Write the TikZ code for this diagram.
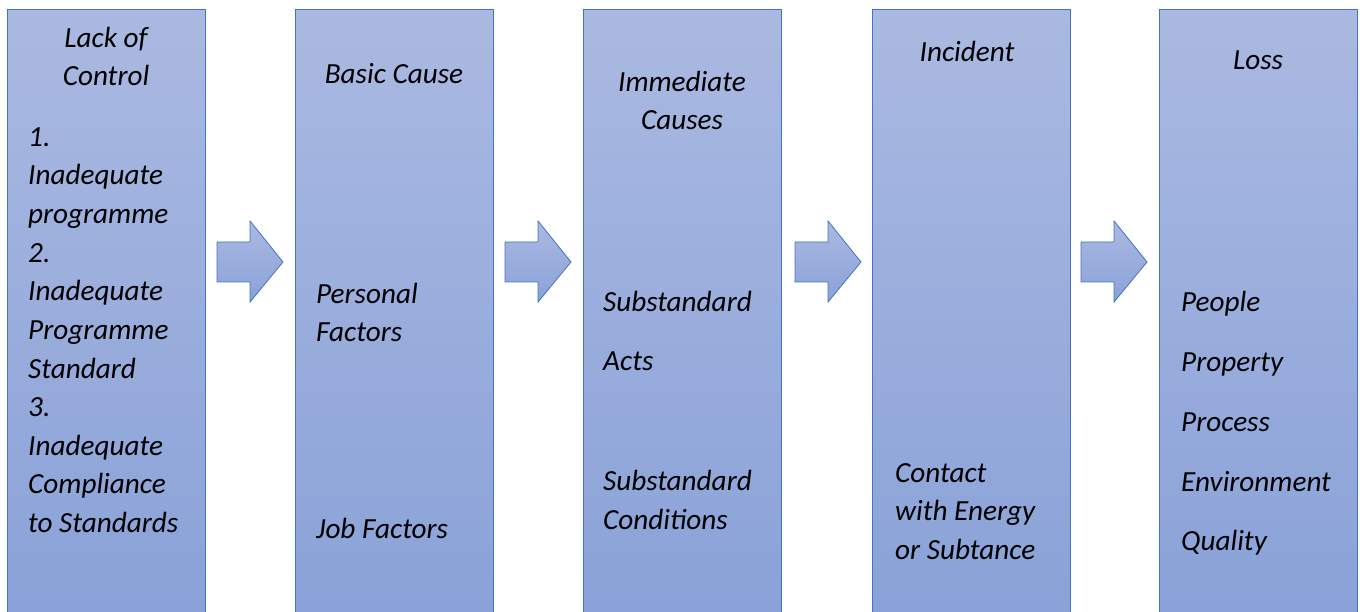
\documentclass[tikz,border=0pt]{standalone}
\usepackage{fontspec}
\setmainfont{Carlito}
\begin{document}
\begin{tikzpicture}[x=1pt,y=-1pt,
  stage/.style={draw=edgeblue, line width=0.9pt, top color=stagetop, bottom color=stagebot,
    rectangle, inner sep=0pt, minimum width=198pt, minimum height=604pt},
  flow/.style={draw=edgeblue, line width=0.8pt, top color=stagetop, bottom color=stagebot, line join=miter},
  lbl/.style={inner sep=0pt, font=\fontsize{29.2}{38}\selectfont\itshape},
  lw/.style={lbl, anchor=base west},
  lc/.style={lbl, anchor=base}]
\definecolor{edgeblue}{HTML}{4472C4}
\definecolor{stagetop}{HTML}{AAB9E1}
\definecolor{stagebot}{HTML}{8AA2D8}
\useasboundingbox (0,0) rectangle (1362,612);
\fill[white] (0,0) rectangle (1362,612);

% the five stages
\node[stage] (s1) at (106,311.5) {};
\node[stage] (s2) at (394,311.5) {};
\node[stage] (s3) at (682.5,311.5) {};
\node[stage] (s4) at (971.5,311.5) {};
\node[stage] (s5) at (1258,311.5) {};

% block arrows between the stages
\newcommand\flowarrow[1]{%
  \draw[flow] (#1,242) -- ++(33,0) -- ++(0,-21) -- ++(33,41) -- ++(-33,40) -- ++(0,-20) -- ++(-33,0) -- cycle;}
\flowarrow{217}
\flowarrow{505}
\flowarrow{795}
\flowarrow{1081}

% stage 1
\node[lc] (h1a) at (106,48) {Lack of};
\node[lc] (h1b) at (106,86) {Control};
\node[lw] (t1a) at (28,147) {1.};
\node[lw] (t1b) at (28,185) {Inadequate};
\node[lw] (t1c) at (28,224) {programme};
\node[lw] (t1d) at (28,262) {2.};
\node[lw] (t1e) at (28,301) {Inadequate};
\node[lw] (t1f) at (28,339) {Programme};
\node[lw] (t1g) at (28,378) {Standard};
\node[lw] (t1h) at (28,416) {3.};
\node[lw] (t1i) at (28,455) {Inadequate};
\node[lw] (t1j) at (28,493) {Compliance};
\node[lw] (t1k) at (28,532) {to Standards};

% stage 2
\node[lc] (h2) at (394,84) {Basic Cause};
\node[lw] (t2a) at (316,303) {Personal};
\node[lw] (t2b) at (316,341) {Factors};
\node[lw] (t2c) at (316,538) {Job Factors};

% stage 3
\node[lc] (h3a) at (682,92) {Immediate};
\node[lc] (h3b) at (682,130) {Causes};
\node[lw] (t3a) at (603,311) {Substandard};
\node[lw] (t3b) at (603,370) {Acts};
\node[lw] (t3c) at (603,490) {Substandard};
\node[lw] (t3d) at (603,529) {Conditions};

% stage 4
\node[lc] (h4) at (967,62) {Incident};
\node[lw] (t4a) at (895,482) {Contact};
\node[lw] (t4b) at (895,520) {with Energy};
\node[lw] (t4c) at (895,559) {or Subtance};

% stage 5
\node[lc] (h5) at (1258,70) {Loss};
\node[lw] (t5a) at (1181,311) {People};
\node[lw] (t5b) at (1181,371) {Property};
\node[lw] (t5c) at (1181,431) {Process};
\node[lw] (t5d) at (1181,491) {Environment};
\node[lw] (t5e) at (1181,550) {Quality};
\end{tikzpicture}
\end{document}
